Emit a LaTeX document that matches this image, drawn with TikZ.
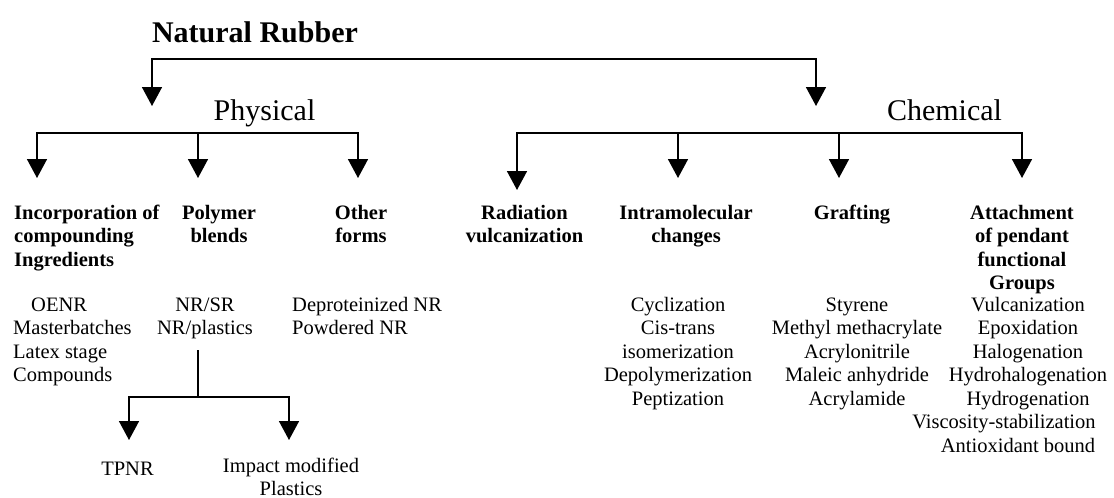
\documentclass[tikz,border=0pt]{standalone}
\usepackage{fontspec}
\setmainfont{Liberation Serif}
\usetikzlibrary{arrows.meta}
\begin{document}
\begin{tikzpicture}[x=1pt,y=-1pt,
  conn/.style={line width=1.6pt},
  arr/.style={conn,-{Triangle[width=20pt,length=19pt]}},
  title/.style={font=\fontsize{30}{34}\selectfont\bfseries, inner sep=0pt, anchor=base},
  branch/.style={font=\fontsize{30}{34}\selectfont, inner sep=0pt, anchor=base},
  cat/.style={font=\fontsize{20.5}{23.5}\selectfont\bfseries, inner sep=0pt, align=center, anchor=base},
  item/.style={font=\fontsize{20.5}{23.5}\selectfont, inner sep=0pt, align=center, anchor=base},
]
\fill[white] (0,0) rectangle (1114,498);
\useasboundingbox (0,0) rectangle (1114,498);

% top level
\node[title] (nr) at (255,42) {Natural Rubber};
\node[branch] (phys) at (264.5,120) {Physical};
\node[branch] (chem) at (944.5,120) {Chemical};

\coordinate (top) at (484,59);
\coordinate (physTip) at (152,106);
\coordinate (chemTip) at (816,106);
\draw[arr] (top) -| (physTip);
\draw[arr] (top) -| (chemTip);

% physical branch
\coordinate (pbar) at (198,133);
\coordinate (tInc) at (37,178);
\coordinate (tPol) at (198,178);
\coordinate (tOth) at (358,178);
\draw[arr] (pbar) -| (tInc);
\draw[arr] (pbar) -- (tPol);
\draw[arr] (pbar) -| (tOth);

% chemical branch
\coordinate (cbar) at (678,133);
\coordinate (tRad) at (517,190);
\coordinate (tIntra) at (678,178);
\coordinate (tGraft) at (839,178);
\coordinate (tAtt) at (1022,178);
\draw[arr] (cbar) -| (tRad);
\draw[arr] (cbar) -- (tIntra);
\draw[arr] (cbar) -| (tGraft);
\draw[arr] (cbar) -| (tAtt);

% category labels (anchor = baseline of the last line)
\node[cat, align=left, anchor=base west] (inc) at (14,266) {Incorporation of\\compounding\\Ingredients};
\node[cat] (pol) at (219,242.5) {Polymer\\blends};
\node[cat] (oth) at (361,242.5) {Other\\forms};
\node[cat] (rad) at (524.5,242.5) {Radiation\\vulcanization};
\node[cat] (intra) at (686,242.5) {Intramolecular\\changes};
\node[cat] (graft) at (852,219) {Grafting};
\node[cat] (att) at (1022,289.5) {Attachment\\of pendant\\functional\\Groups};

% item lists
\node[item, anchor=base west] (oenr) at (31,311) {OENR};
\node[item, align=left, anchor=base west] (mb) at (13,381.5) {Masterbatches\\Latex stage\\Compounds};
\node[item] (blendL) at (205,334.5) {NR/SR\\NR/plastics};
\node[item, align=left, anchor=base west] (formL) at (292,334.5) {Deproteinized NR\\Powdered NR};
\node[item] (intraL) at (678,405) {Cyclization\\Cis-trans\\isomerization\\Depolymerization\\Peptization};
\node[item] (graftL) at (857,405) {Styrene\\Methyl methacrylate\\Acrylonitrile\\Maleic anhydride\\Acrylamide};
\node[item] (attL) at (1028,405) {Vulcanization\\Epoxidation\\Halogenation\\Hydrohalogenation\\Hydrogenation};
\node[item] (visc) at (1004,428.5) {Viscosity-stabilization};
\node[item] (antiox) at (1018,452) {Antioxidant bound};

% polymer blend sub-branch
\coordinate (psub) at (198,350);
\coordinate (pj) at (198,397);
\coordinate (tTp) at (129,440);
\coordinate (tImp) at (289,440);
\draw[conn] (psub) -- (pj);
\draw[arr] (pj) -| (tTp);
\draw[arr] (pj) -| (tImp);

\node[item] (tpnr) at (127.5,475) {TPNR};
\node[item] (imp) at (291,495.5) {Impact modified\\Plastics};
\end{tikzpicture}
\end{document}
